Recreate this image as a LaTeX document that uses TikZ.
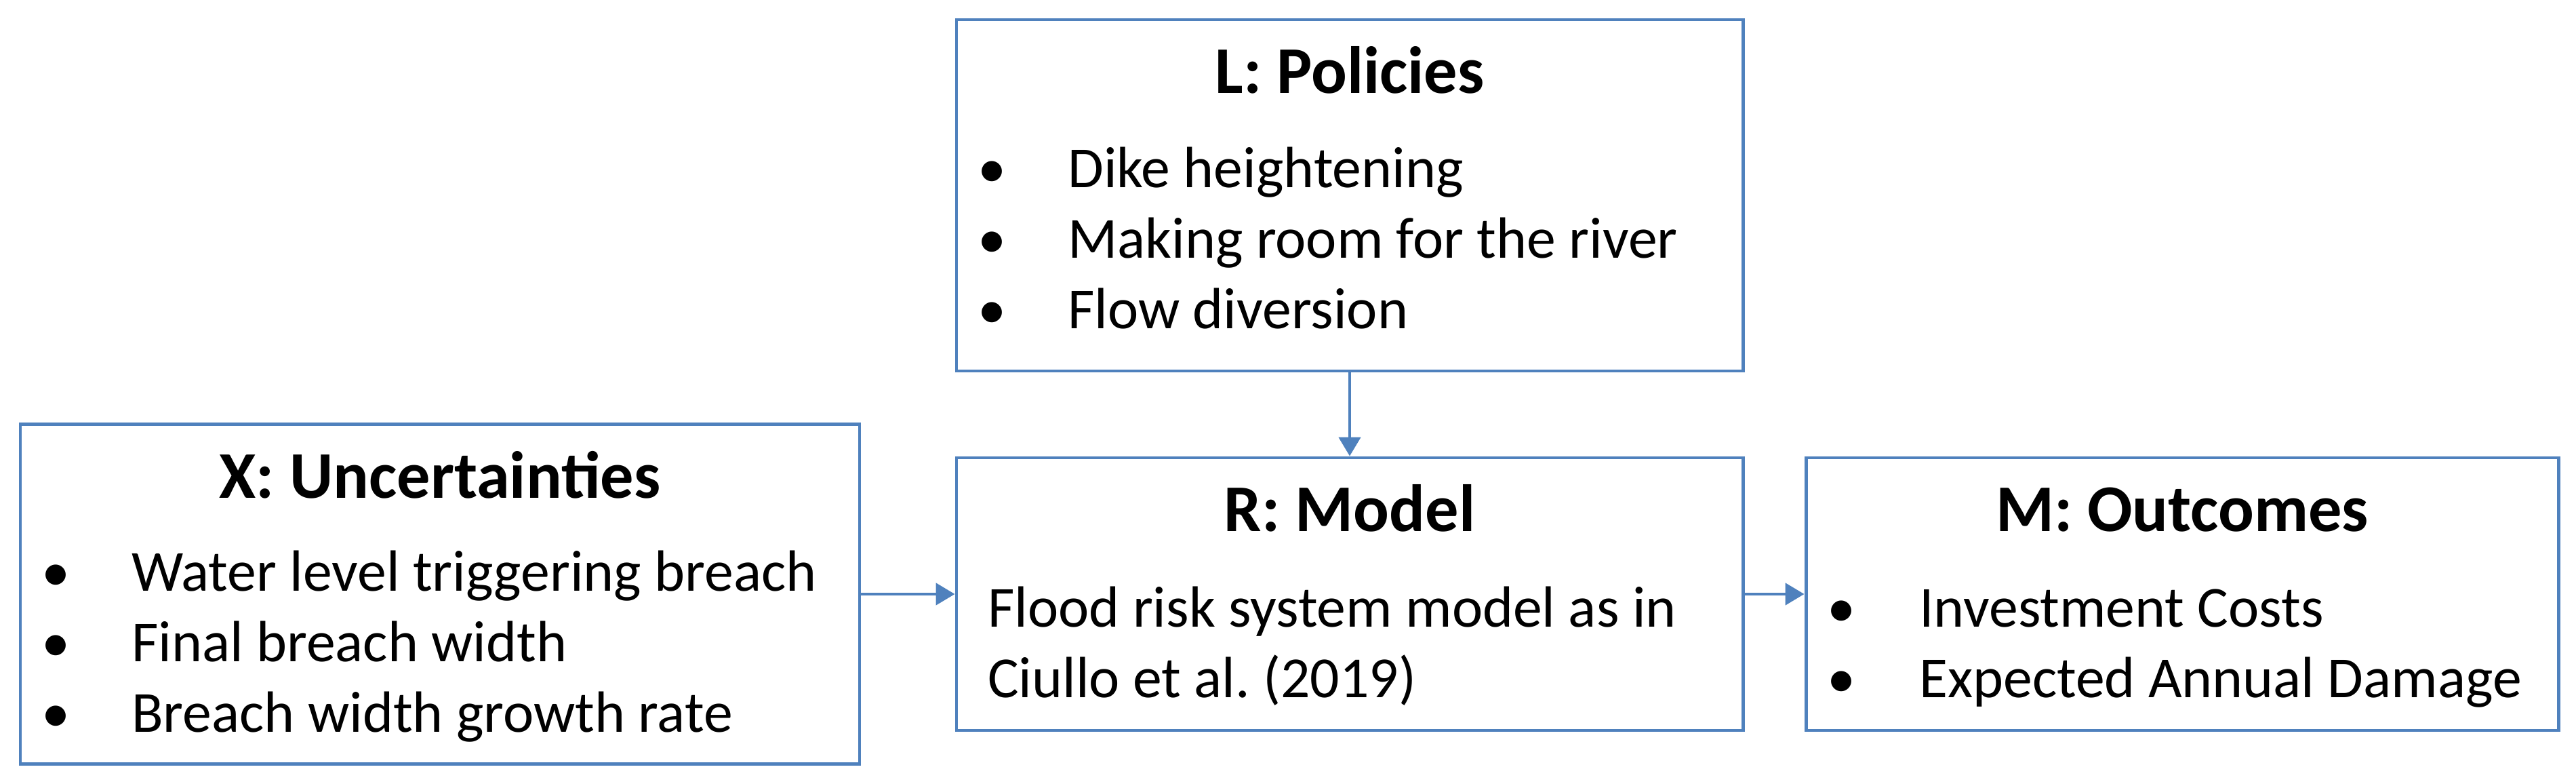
\documentclass[tikz,border=0pt]{standalone}
\usepackage{fontspec}
\setmainfont{Carlito}
\usepackage{tikz}
\usetikzlibrary{arrows.meta}
\usepackage{xcolor}
\definecolor{xlrmblue}{RGB}{79,129,189}
\tikzstyle{box} = [draw=xlrmblue, line width=1.4pt, minimum width=11.6cm, minimum height=4.02cm, inner sep=0pt]
\tikzstyle{arrow} = [line width=1.4pt, -{Triangle[length=2.8mm,width=3.2mm]}, color=xlrmblue]
\tikzstyle{title} = [font=\fontsize{28}{34}\selectfont\bfseries, anchor=base, inner sep=0pt]
\tikzstyle{item} = [font=\fontsize{24.4}{29}\selectfont, anchor=base west, inner sep=0pt]
\tikzstyle{dot} = [font=\fontsize{24}{29}\selectfont, anchor=base, inner sep=0pt]
\frenchspacing

\begin{document}
\begin{tikzpicture}
    \useasboundingbox (0,0) rectangle (38,11.56);

    % L: Policies
    \node[box, minimum height=5.18cm] (L) at (19.91, 8.68) {};
    \node[title] (Lt) at ([yshift=-1.11cm]L.north) {L: Policies};
    \node[dot] (Lb1) at ([xshift=0.55cm, yshift=-2.50cm]L.north west) {\textbullet};
    \node[dot] (Lb2) at ([xshift=0.55cm, yshift=-3.54cm]L.north west) {\textbullet};
    \node[dot] (Lb3) at ([xshift=0.55cm, yshift=-4.58cm]L.north west) {\textbullet};
    \node[item] (L1) at ([xshift=1.66cm, yshift=-2.50cm]L.north west) {Dike heightening};
    \node[item] (L2) at ([xshift=1.66cm, yshift=-3.54cm]L.north west) {Making room for the river};
    \node[item] (L3) at ([xshift=1.66cm, yshift=-4.58cm]L.north west) {Flow diversion};

    % X: Uncertainties
    \node[box, minimum width=12.38cm, minimum height=5.01cm] (X) at (6.49, 2.80) {};
    \node[title] (Xt) at ([yshift=-1.11cm]X.north) {X: Uncertainties};
    \node[dot] (Xb1) at ([xshift=0.55cm, yshift=-2.48cm]X.north west) {\textbullet};
    \node[dot] (Xb2) at ([xshift=0.55cm, yshift=-3.52cm]X.north west) {\textbullet};
    \node[dot] (Xb3) at ([xshift=0.55cm, yshift=-4.56cm]X.north west) {\textbullet};
    \node[item] (X1) at ([xshift=1.66cm, yshift=-2.48cm]X.north west) {Water level triggering breach};
    \node[item] (X2) at ([xshift=1.66cm, yshift=-3.52cm]X.north west) {Final breach width};
    \node[item] (X3) at ([xshift=1.66cm, yshift=-4.56cm]X.north west) {Breach width growth rate};

    % R: Model
    \node[box] (R) at (19.91, 2.80) {};
    \node[title] (Rt) at ([yshift=-1.11cm]R.north) {R: Model};
    \node[item] (R1) at ([xshift=0.48cm, yshift=-2.52cm]R.north west) {Flood risk system model as in};
    \node[item] (R2) at ([xshift=0.48cm, yshift=-3.56cm]R.north west) {Ciullo et al. (2019)};

    % M: Outcomes
    \node[box, minimum width=11.10cm] (M) at (32.19, 2.80) {};
    \node[title] (Mt) at ([yshift=-1.11cm]M.north) {M: Outcomes};
    \node[dot] (Mb1) at ([xshift=0.55cm, yshift=-2.52cm]M.north west) {\textbullet};
    \node[dot] (Mb2) at ([xshift=0.55cm, yshift=-3.56cm]M.north west) {\textbullet};
    \node[item] (M1) at ([xshift=1.69cm, yshift=-2.52cm]M.north west) {Investment Costs};
    \node[item] (M2) at ([xshift=1.69cm, yshift=-3.56cm]M.north west) {Expected Annual Damage};

    % Arrows
    \draw[arrow] (L.south) -- (R.north);
    \draw[arrow] (X.east) -- (R.west);
    \draw[arrow] (R.east) -- (M.west);
\end{tikzpicture}
\end{document}
